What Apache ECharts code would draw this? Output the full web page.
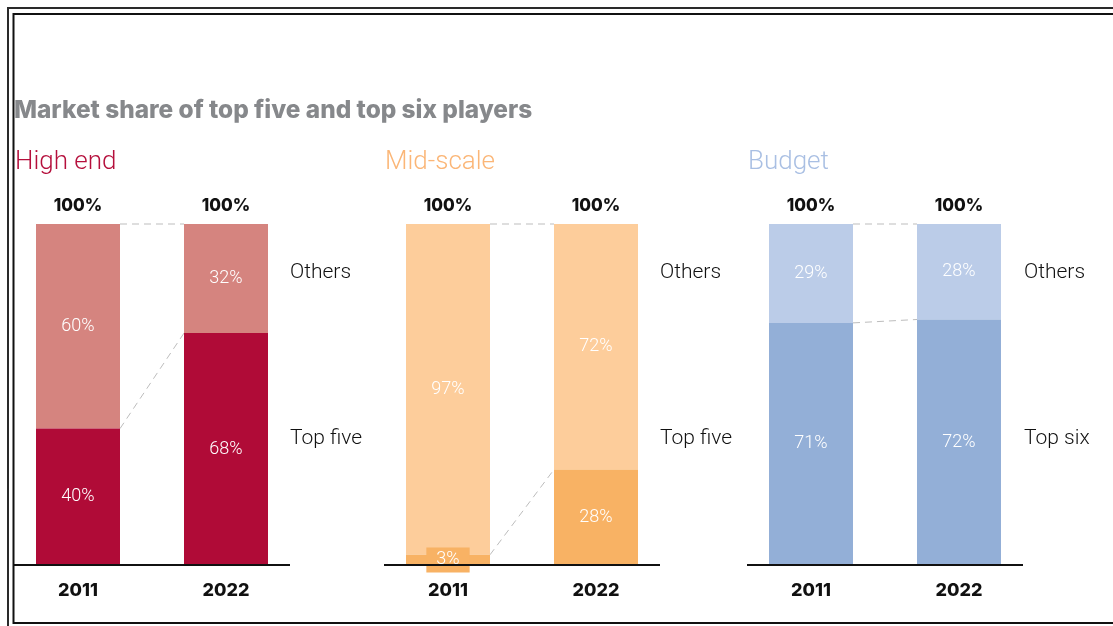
<!DOCTYPE html>
<html>
<head>
<meta charset="utf-8">
<title>Market share of top five and top six players</title>
<script src="https://cdn.jsdelivr.net/npm/echarts@6/dist/echarts.min.js"></script>
<style>
  html, body { margin: 0; padding: 0; background: #fff; }
  #chart { width: 1113px; height: 626px; }
</style>
</head>
<body>
<div id="chart"></div>
<script>
// Market share by hotel segment, 2011 vs 2022
const years = ['2011', '2022'];
const segments = ['High end', 'Mid-scale', 'Budget'];
const leaderNames = ['Top five', 'Top five', 'Top six'];
const othersName = 'Others';
const leaderShare = [[40, 68], [3, 28], [71, 72]];
const othersShare = [[60, 32], [97, 72], [29, 28]];

// Palette per segment
const leaderColors = ['#b00b37', '#f8b264', '#93afd7'];
const othersColors = ['#d5847f', '#fdcd9b', '#bbcce8'];
const headingColors = ['#b50f3c', '#fbb677', '#a9bfe3'];

const BOLD = 'Inter, "Liberation Sans", sans-serif';
const LIGHT = 'Roboto, "Liberation Sans", sans-serif';
const BAR_W = 84;

const gridLefts = [4, 374, 737];
const sideLabelLefts = [290, 660, 1024];
const headingLefts = [15, 385, 748];

const chart = echarts.init(document.getElementById('chart'), null, { renderer: 'canvas' });

const grids = [], xAxes = [], yAxes = [], series = [], titles = [];

titles.push({
  text: 'Market share of top five and top six players',
  left: 14, top: 99, padding: 0,
  textStyle: { fontFamily: BOLD, fontWeight: 800, fontSize: 24.4, color: '#86888b' }
});

segments.forEach((seg, i) => {
  const totals = leaderShare[i].map((v, k) => v + othersShare[i][k]);

  grids.push({ left: gridLefts[i], width: 296, top: 224, height: 341 });
  xAxes.push({
    type: 'category', gridIndex: i, data: years,
    axisLine: { show: false }, axisTick: { show: false },
    axisLabel: { margin: 17, fontFamily: BOLD, fontWeight: 800, fontSize: 18, color: '#111' }
  });
  yAxes.push({ type: 'value', gridIndex: i, min: 0, max: 100, show: false, splitLine: { show: false } });

  titles.push({
    text: seg, left: headingLefts[i], top: 149, padding: 0,
    textStyle: { fontFamily: LIGHT, fontWeight: 300, fontSize: 26, color: headingColors[i] }
  });
  titles.push({
    text: othersName, left: sideLabelLefts[i], top: 262, padding: 0,
    textStyle: { fontFamily: LIGHT, fontWeight: 300, fontSize: 21, color: '#111' }
  });
  titles.push({
    text: leaderNames[i], left: sideLabelLefts[i], top: 428, padding: 0,
    textStyle: { fontFamily: LIGHT, fontWeight: 300, fontSize: 21, color: '#111' }
  });

  const innerLabel = {
    show: true, position: 'inside', formatter: '{c}%',
    fontFamily: LIGHT, fontWeight: 300, fontSize: 18, color: '#fff'
  };

  // Leading players (bottom of the stack); tiny shares get a tag box
  series.push({
    type: 'bar', name: leaderNames[i], stack: 'seg' + i,
    xAxisIndex: i, yAxisIndex: i, barWidth: BAR_W,
    itemStyle: { color: leaderColors[i] },
    label: innerLabel,
    data: leaderShare[i].map(v => v < 8 ? {
      value: v,
      label: { backgroundColor: leaderColors[i], padding: [4, 10, 3, 10] }
    } : v),
    z: 3
  });
  // Everyone else
  series.push({
    type: 'bar', name: othersName, stack: 'seg' + i,
    xAxisIndex: i, yAxisIndex: i, barWidth: BAR_W,
    itemStyle: { color: othersColors[i] },
    label: innerLabel,
    data: othersShare[i],
    z: 2
  });

  // Dashed connectors between the two bars: leader boundary and total
  const links = [leaderShare[i], totals];
  series.push({
    type: 'custom', xAxisIndex: i, yAxisIndex: i, clip: false, silent: true, z: 1,
    data: links.map((_, k) => k),
    renderItem: (params, api) => {
      const pair = links[params.dataIndex];
      const a = api.coord([0, pair[0]]);
      const b = api.coord([1, pair[1]]);
      return {
        type: 'line',
        shape: { x1: a[0] + BAR_W / 2, y1: a[1], x2: b[0] - BAR_W / 2, y2: b[1] },
        style: { stroke: '#bdbdbd', lineWidth: 1, lineDash: [7, 5] }
      };
    }
  });

  // Total above each bar
  series.push({
    type: 'custom', xAxisIndex: i, yAxisIndex: i, clip: false, silent: true, z: 4,
    data: totals.map((_, k) => k),
    renderItem: (params, api) => {
      const p = api.coord([params.dataIndex, totals[params.dataIndex]]);
      return {
        type: 'text',
        style: {
          x: p[0], y: p[1] - 18, text: totals[params.dataIndex] + '%',
          align: 'center', verticalAlign: 'middle',
          font: '800 17px ' + BOLD, fill: '#111'
        }
      };
    }
  });

  // Baseline under the pair of bars
  series.push({
    type: 'custom', xAxisIndex: i, yAxisIndex: i, clip: false, silent: true, z: 5,
    data: [0],
    renderItem: (params, api) => {
      const cs = params.coordSys;
      const y = api.coord([0, 0])[1];
      return {
        type: 'line',
        shape: { x1: cs.x + 10, y1: y, x2: cs.x + cs.width - 10, y2: y },
        style: { stroke: '#111', lineWidth: 2 }
      };
    }
  });
});

chart.setOption({
  animation: false,
  backgroundColor: '#fff',
  title: titles,
  grid: grids,
  xAxis: xAxes,
  yAxis: yAxes,
  series: series,
  graphic: [
    { type: 'rect', shape: { x: 8, y: 8, width: 1300, height: 900 }, style: { fill: 'none', stroke: '#2a2a2a', lineWidth: 2 }, z: 10 },
    { type: 'rect', shape: { x: 13.5, y: 14, width: 1300, height: 609 }, style: { fill: 'none', stroke: '#111', lineWidth: 2 }, z: 10 }
  ]
});
</script>
</body>
</html>
